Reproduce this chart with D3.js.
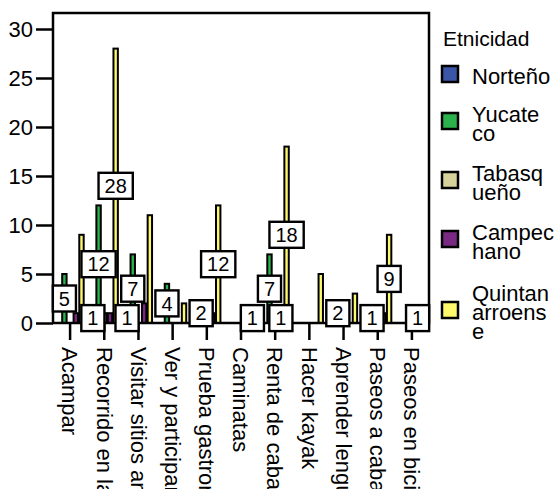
<!DOCTYPE html>
<html lang="es">
<head>
  <meta charset="UTF-8">
  <title>Actividades por etnicidad</title>
  <style>
    body { margin: 0; background: #fff; }
    svg { display: block; font-family: "Liberation Sans", Arial, sans-serif; }
  </style>
  <script src="https://d3js.org/d3.v7.min.js"></script>
</head>
<body>
<script>
  // categories (x axis)
  var categories = ["Acampar", "Recorrido en la selva", "Visitar sitios arqueológicos",
    "Ver y participar en rituales", "Prueba gastronómica", "Caminatas",
    "Renta de cabañas", "Hacer kayak", "Aprender lengua maya",
    "Paseos a caballo", "Paseos en bicicleta"];

  var series = ["Norteño", "Yucateco", "Tabasqueño", "Campechano", "Quintanarroense"];
  // legend text as wrapped in the original
  var legendLines = [["Norteño"], ["Yucate", "co"], ["Tabasq", "ueño"],
    ["Campec", "hano"], ["Quintan", "arroens", "e"]];
  var colors = ["#3b56a6", "#2bb24c", "#d6d09b", "#7b2a83", "#fdf86c"];

  // counts per series, one per category
  var norteno       = [0, 1, 1, 0, 0, 0, 0, 0, 0, 0, 0];
  var yucateco      = [5, 12, 7, 4, 2, 0, 7, 0, 2, 1, 0];
  var tabasqueno    = [0, 1, 0, 0, 0, 0, 0, 0, 0, 0, 0];
  var campechano    = [1, 1, 2, 0, 1, 0, 1, 0, 0, 1, 1];
  var quintanarroense = [9, 28, 11, 2, 12, 1, 18, 5, 3, 9, 0];
  var values = [norteno, yucateco, tabasqueno, campechano, quintanarroense];

  // which bars carry a value label (category indices, per series)
  var labelNorteno = [1, 2];
  var labelYucateco = [0, 1, 2, 3, 4, 6, 8, 9];
  var labelTabasqueno = [];
  var labelCampechano = [6, 10];
  var labelQuintana = [1, 4, 5, 6, 9];
  var labelled = [labelNorteno, labelYucateco, labelTabasqueno, labelCampechano, labelQuintana];

  var yTicks = [0, 5, 10, 15, 20, 25, 30];

  var width = 560, height = 489;
  var plotL = 53, plotR = 429, plotT = 13, plotB = 323;

  var rows = [];
  series.forEach(function (s, si) {
    categories.forEach(function (c, ci) {
      rows.push({ cat: c, ser: s, si: si, ci: ci, v: values[si][ci],
        lab: labelled[si].indexOf(ci) >= 0 });
    });
  });

  var svg = d3.select("body").append("svg")
    .attr("width", width)
    .attr("height", height);

  var x0 = d3.scaleBand().domain(categories).range([plotL, plotR]);
  var x1 = d3.scaleBand().domain(series).range([0, x0.bandwidth()])
    .paddingInner(0).paddingOuter(0.5);
  var y = d3.scaleLinear().domain([0, 30]).range([plotB, 29]);
  var color = d3.scaleOrdinal().domain(series).range(colors);

  function cx(d) { return x0(d.cat) + x1(d.ser) + x1.bandwidth() / 2; }

  // bars
  svg.append("g").selectAll("rect")
    .data(rows.filter(function (d) { return d.v > 0; }))
    .enter().append("rect")
    .attr("x", function (d) { return cx(d) - 2.2; })
    .attr("width", 4.4)
    .attr("y", function (d) { return y(d.v); })
    .attr("height", function (d) { return y(0) - y(d.v); })
    .attr("fill", function (d) { return color(d.ser); })
    .attr("stroke", "#000")
    .attr("stroke-width", 2);

  // frame
  svg.append("rect")
    .attr("x", plotL).attr("y", plotT)
    .attr("width", plotR - plotL).attr("height", plotB - plotT)
    .attr("fill", "none").attr("stroke", "#000").attr("stroke-width", 2.5);

  // y axis
  var yAxis = d3.axisLeft(y).tickValues(yTicks).tickSize(17).tickPadding(3);
  var gy = svg.append("g").attr("transform", "translate(" + plotL + ",0)").call(yAxis);
  gy.select(".domain").remove();
  gy.selectAll("line").attr("stroke", "#000").attr("stroke-width", 2.5);
  gy.selectAll("text").attr("font-size", 22).attr("fill", "#000")
    .attr("font-family", "Liberation Sans, Arial, sans-serif");

  // x axis
  var xAxis = d3.axisBottom(x0).tickSize(17).tickSizeOuter(0);
  var gx = svg.append("g").attr("transform", "translate(0," + plotB + ")").call(xAxis);
  gx.select(".domain").remove();
  gx.selectAll("line").attr("stroke", "#000").attr("stroke-width", 2.5);
  gx.selectAll("text")
    .attr("font-size", 22).attr("fill", "#000")
    .attr("font-family", "Liberation Sans, Arial, sans-serif")
    .style("text-anchor", "start")
    .attr("y", 0).attr("x", 0)
    .attr("dy", "0.35em")
    .attr("transform", "translate(0,24) rotate(90)");

  // value labels, placed at half the bar height
  var lab = svg.append("g").selectAll("g")
    .data(rows.filter(function (d) { return d.lab && d.v > 0; }))
    .enter().append("g")
    .attr("transform", function (d) { return "translate(" + cx(d) + "," + y(d.v / 2) + ")"; });
  lab.append("rect");
  lab.append("text")
    .attr("text-anchor", "middle")
    .attr("dy", "0.36em")
    .attr("font-size", 20)
    .text(function (d) { return d.v; });
  lab.each(function () {
    var g = d3.select(this);
    var w = g.select("text").node().getComputedTextLength() + 12;
    g.select("rect")
      .attr("x", -w / 2).attr("y", -13)
      .attr("width", w).attr("height", 26)
      .attr("fill", "#fff").attr("stroke", "#000").attr("stroke-width", 2.4);
  });

  // legend
  var legend = svg.append("g");
  legend.append("text")
    .attr("x", 443).attr("y", 46)
    .attr("font-size", 21)
    .text("Etnicidad");

  var lineH = 24, gap = 11, cy = 74, prevN = 0;
  series.forEach(function (s, i) {
    var lines = legendLines[i];
    if (i > 0) cy += (prevN + lines.length) * lineH / 2 + gap;
    prevN = lines.length;
    legend.append("rect")
      .attr("x", 442).attr("y", cy - 8)
      .attr("width", 16).attr("height", 16)
      .attr("fill", color(s)).attr("stroke", "#000").attr("stroke-width", 2.5);
    var t = legend.append("text").attr("font-size", 22);
    lines.forEach(function (ln, k) {
      t.append("tspan")
        .attr("x", 472)
        .attr("y", cy + 10 + (k - (lines.length - 1) / 2) * 19)
        .text(ln);
    });
  });
</script>
</body>
</html>
